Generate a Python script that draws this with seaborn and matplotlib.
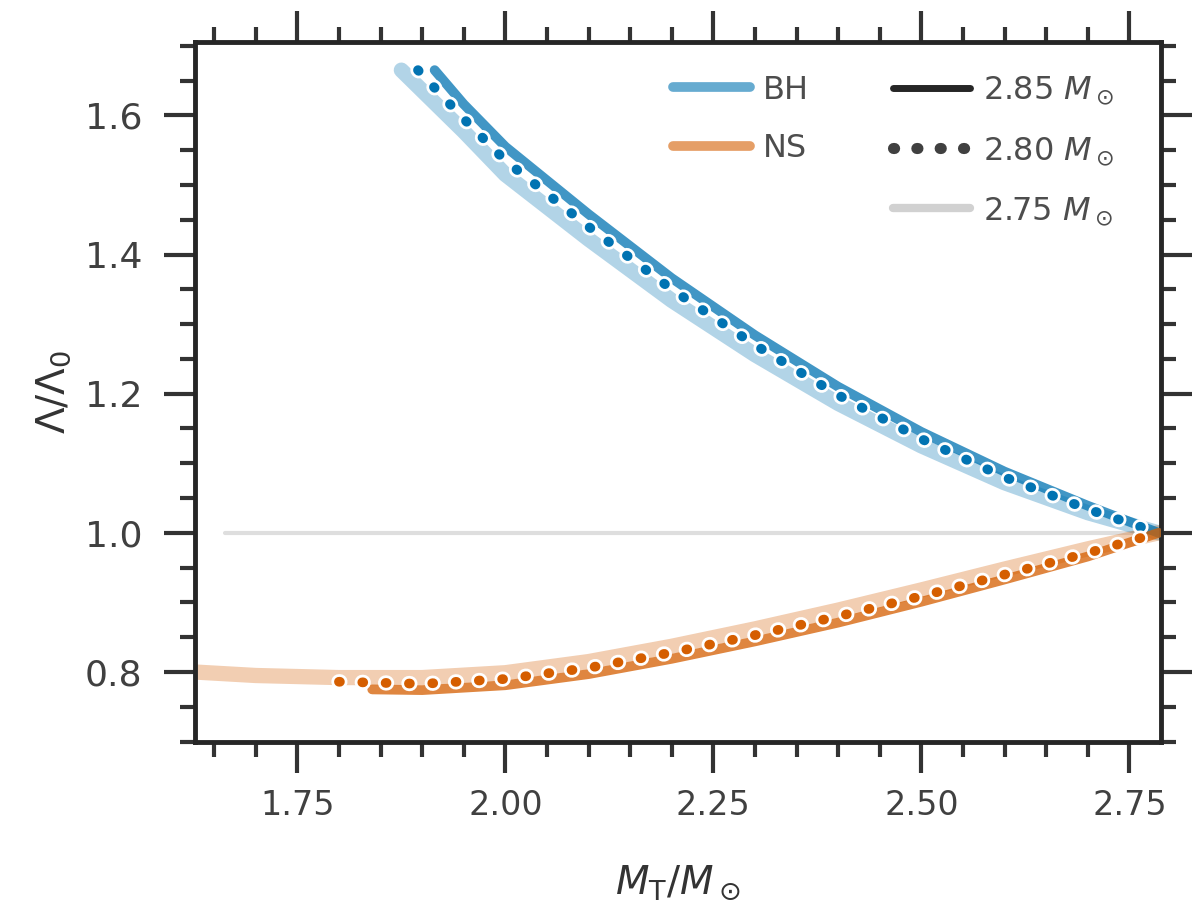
import numpy as np
import pandas as pd
import matplotlib
matplotlib.use("Agg")
import matplotlib.pyplot as plt
import matplotlib.patheffects as pe
import seaborn as sns
from matplotlib.lines import Line2D
from matplotlib.ticker import MultipleLocator

# values
masses = ["2.85", "2.80", "2.75"]

bh_x_285 = [1.915, 1.95, 2.00, 2.10, 2.20, 2.30, 2.40, 2.50, 2.60, 2.70, 2.785]
bh_y_285 = [1.665, 1.616, 1.555, 1.458, 1.366, 1.284, 1.21, 1.145, 1.088, 1.039, 1.0]
bh_x_280 = [1.895, 1.95, 2.00, 2.10, 2.20, 2.30, 2.40, 2.50, 2.60, 2.70, 2.785]
bh_y_280 = [1.665, 1.595, 1.535, 1.44, 1.35, 1.27, 1.198, 1.135, 1.08, 1.034, 1.0]
bh_x_275 = [1.875, 1.95, 2.00, 2.10, 2.20, 2.30, 2.40, 2.50, 2.60, 2.70, 2.785]
bh_y_275 = [1.665, 1.577, 1.515, 1.422, 1.334, 1.256, 1.186, 1.125, 1.072, 1.029, 1.0]

ns_x_285 = [1.84, 1.90, 2.00, 2.10, 2.20, 2.30, 2.40, 2.50, 2.60, 2.70, 2.785]
ns_y_285 = [0.775, 0.774, 0.781, 0.797, 0.819, 0.844, 0.871, 0.901, 0.933, 0.966, 1.0]
ns_x_280 = [1.80, 1.90, 2.00, 2.10, 2.20, 2.30, 2.40, 2.50, 2.60, 2.70, 2.785]
ns_y_280 = [0.786, 0.783, 0.790, 0.806, 0.828, 0.853, 0.880, 0.909, 0.940, 0.971, 1.0]
ns_x_275 = [1.627, 1.70, 1.80, 1.90, 2.00, 2.10, 2.20, 2.30, 2.40, 2.50, 2.60, 2.70, 2.785]
ns_y_275 = [0.800, 0.795, 0.792, 0.792, 0.799, 0.815, 0.837, 0.862, 0.889, 0.918, 0.948, 0.977, 1.0]

ref_x = [1.663, 2.785]
ref_y = [1.0, 1.0]

groups = ["BH", "NS"]
colors = {"BH": "#0173b2", "NS": "#d55e00"}

sns.set_style("ticks")
plt.rcParams["font.family"] = ["DejaVu Sans"]
plt.rcParams["mathtext.fontset"] = "dejavusans"

fig = plt.figure(figsize=(12, 9), dpi=100)
ax = fig.add_axes([0.1625, 0.176, 0.805, 0.777])

ax.plot(ref_x, ref_y, color="0.87", lw=3, zorder=1)

series = {
    ("BH", "2.85"): (bh_x_285, bh_y_285),
    ("BH", "2.80"): (bh_x_280, bh_y_280),
    ("BH", "2.75"): (bh_x_275, bh_y_275),
    ("NS", "2.85"): (ns_x_285, ns_y_285),
    ("NS", "2.80"): (ns_x_280, ns_y_280),
    ("NS", "2.75"): (ns_x_275, ns_y_275),
}

for (g, m), (xs, ys) in series.items():
    c = colors[g]
    if m == "2.75":
        sns.lineplot(x=xs, y=ys, ax=ax, color=c, lw=11, alpha=0.3,
                     solid_capstyle="round", zorder=2)
    elif m == "2.80":
        sns.lineplot(x=xs, y=ys, ax=ax, color=c, lw=7, zorder=4,
                     linestyle=(0, (0.1, 2.3)), dash_capstyle="round",
                     path_effects=[pe.Stroke(linewidth=11, foreground="white"), pe.Normal()])
    else:
        sns.lineplot(x=xs, y=ys, ax=ax, color=c, lw=7, alpha=0.75, zorder=3,
                     solid_capstyle="round")

ax.set_xlim(1.627, 2.788)
ax.set_ylim(0.70, 1.705)
ax.xaxis.set_major_locator(MultipleLocator(0.25))
ax.xaxis.set_minor_locator(MultipleLocator(0.05))
ax.yaxis.set_major_locator(MultipleLocator(0.2))
ax.yaxis.set_minor_locator(MultipleLocator(0.05))
ax.tick_params(which="both", direction="out", top=True, right=True,
               labelsize=24, width=3, color="0.2", labelcolor="0.25")
ax.tick_params(which="major", length=22)
ax.tick_params(which="minor", length=11)
ax.tick_params(axis="x", which="major", pad=12)
ax.tick_params(axis="y", which="major", pad=16, labelsize=26)
for s in ax.spines.values():
    s.set_linewidth(3.5)
    s.set_color("0.15")

ax.set_xlabel(r"$M_{\rm T}/M_\odot$", fontsize=28, labelpad=30, color="0.2")
ax.set_ylabel(r"$\Lambda/\Lambda_0$", fontsize=28, labelpad=8, color="0.2")

h1 = [Line2D([], [], color=colors[g], lw=7, alpha=0.6) for g in groups]
leg1 = ax.legend(h1, groups, loc="upper left", bbox_to_anchor=(0.465, 0.995),
                 frameon=False, fontsize=23, handlelength=2.4, handletextpad=0.4,
                 labelspacing=0.85, labelcolor="0.3")
ax.add_artist(leg1)

h2 = [Line2D([], [], color="0.15", lw=5),
      Line2D([], [], color="0.25", lw=8, linestyle=(0, (0.1, 2.0)), dash_capstyle="round"),
      Line2D([], [], color="0.82", lw=6)]
labels2 = [rf"${m}\ M_\odot$" for m in masses]
ax.legend(h2, labels2, loc="upper left", bbox_to_anchor=(0.693, 0.995),
          frameon=False, fontsize=23, handlelength=2.4, handletextpad=0.4,
          labelspacing=0.85, labelcolor="0.3")

fig.savefig("out.png", dpi=100)
